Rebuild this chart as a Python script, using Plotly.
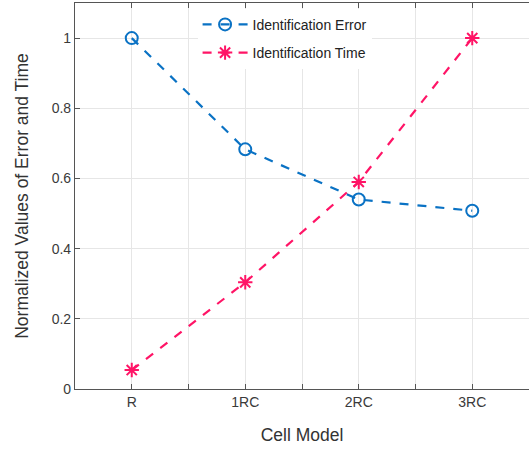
import plotly.graph_objects as go

categories = ["R", "1RC", "2RC", "3RC"]
ident_error = [1.0, 0.683, 0.54, 0.508]
ident_time = [0.054, 0.304, 0.59, 1.0]
y_ticks = [0, 0.2, 0.4, 0.6, 0.8, 1]

xpos = list(range(len(categories)))
tickvals = []
ticktext = []
for i, c in enumerate(categories):
    tickvals += [i, i + 0.5]
    ticktext += [c, ""]

blue = "#0a72c4"
pink = "#ff1466"

fig = go.Figure()
fig.add_trace(go.Scatter(
    x=xpos, y=ident_error, mode="lines+markers", name="Identification Error",
    legendgroup="a",
    line=dict(color=blue, width=2.2, dash="dash"),
    marker=dict(symbol="circle-open", size=12, color=blue, line=dict(width=2))))
fig.add_trace(go.Scatter(
    x=xpos, y=ident_time, mode="lines+markers", name="Identification Time",
    legendgroup="b",
    line=dict(color=pink, width=2.2, dash="dash"),
    marker=dict(symbol="asterisk-open", size=12, color=pink, line=dict(width=2, color=pink))))

font = "Liberation Sans, Arial, sans-serif"
fig.update_layout(
    width=529, height=450,
    margin=dict(l=75, r=0, t=3, b=61, autoexpand=False),
    paper_bgcolor="white", plot_bgcolor="white",
    font=dict(family=font, color="#333333"),
    showlegend=True,
    legend=dict(x=0.27, y=0.985, xanchor="left", yanchor="top",
                bgcolor="white", borderwidth=0,
                font=dict(size=14, color="#222222", family=font),
                itemwidth=45, tracegroupgap=7),
    xaxis=dict(range=[-0.5, 3.5], tickvals=tickvals, ticktext=ticktext,
               showgrid=True, gridcolor="#e6e6e6", gridwidth=1,
               showline=True, linecolor="#555555", linewidth=1.2, mirror="ticks",
               ticks="inside", ticklen=5, tickcolor="#555555",
               tickfont=dict(size=14, color="#3a3a3a"), zeroline=False,
               title=dict(text="Cell Model", font=dict(size=17.5, color="#333333"), standoff=19)),
    yaxis=dict(range=[0, 1.1], tickvals=y_ticks, ticktext=["0", "0.2", "0.4", "0.6", "0.8", "1"],
               showgrid=True, gridcolor="#e6e6e6", gridwidth=1,
               showline=True, linecolor="#555555", linewidth=1.2,
               ticks="inside", ticklen=5, tickcolor="#555555",
               tickfont=dict(size=14, color="#3a3a3a"), zeroline=False,
               title=dict(text="Normalized Values of Error and Time", font=dict(size=17.5, color="#333333"), standoff=18)),
)
fig.write_html("out.html", config={"displayModeBar": False},
               post_script="document.body.style.margin='0';document.body.style.padding='0';")
